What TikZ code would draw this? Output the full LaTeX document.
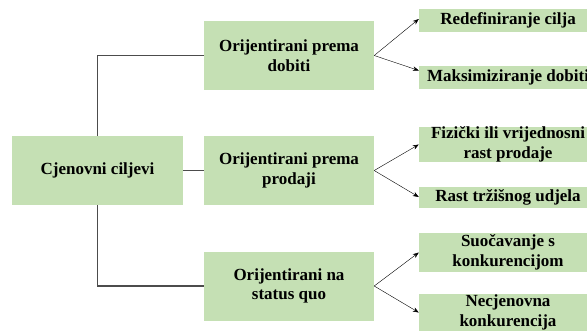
\documentclass[tikz,border=0pt]{standalone}
\usepackage{fontspec}
\setmainfont{Liberation Serif}
\usetikzlibrary{arrows.meta}
\definecolor{boxgreen}{HTML}{C5E0B4}
\begin{document}
\begin{tikzpicture}[x=1pt, y=-1pt,
        box/.style={fill=boxgreen, inner sep=0pt, align=center,
            font=\bfseries\fontsize{17}{19.5}\selectfont},
        midbox/.style={box, minimum width=170, minimum height=69},
        goalbox/.style={box, minimum width=178},
        link/.style={draw=black!70, line width=1.1pt},
        >={Stealth[length=6pt,width=4.5pt]}]
        \useasboundingbox (0,0) rectangle (587,333);

        % Root and three groups
        \node[midbox, minimum width=171] (ciljevi) at (97.5,170.5) {Cjenovni ciljevi};
        \node[midbox] (dobit) at (289,55.5) {Orijentirani prema\\dobiti};
        \node[midbox] (prodaja) at (289,170.5) {Orijentirani prema\\prodaji};
        \node[midbox] (status) at (289,286) {Orijentirani na\\status quo};

        % Goals on the right
        \node[goalbox, minimum height=23] (redef) at (508,20.5) {Redefiniranje cilja};
        \node[goalbox, minimum height=23] (maks) at (508,77.5) {Maksimiziranje dobiti};
        \node[goalbox, minimum height=35] (fizicki) at (508,144.5) {Fizički ili vrijednosni\\rast prodaje};
        \node[goalbox, minimum height=21] (udio) at (508,197) {Rast tržišnog udjela};
        \node[goalbox, minimum height=39] (suocavanje) at (508,252.5) {Suočavanje s\\konkurencijom};
        \node[goalbox, minimum height=37] (necjenovna) at (508,312.5) {Necjenovna\\konkurencija};

        % Tree lines
        \draw[link] (ciljevi.north) |- (dobit.west);
        \draw[link] (ciljevi.east) -- (prodaja.west);
        \draw[link] (ciljevi.south) |- (status.west);

        % Arrows to goals
        \draw[->, thin] (dobit.east) -- ([yshift=1.5pt]redef.west);
        \draw[->, thin] (dobit.east) -- ([yshift=7pt]maks.west);
        \draw[->, thin] (prodaja.east) -- (fizicki.west);
        \draw[->, thin] (prodaja.east) -- (udio.west);
        \draw[->, thin] (status.east) -- (suocavanje.west);
        \draw[->, thin] (status.east) -- (necjenovna.west);
    \end{tikzpicture}
\end{document}
